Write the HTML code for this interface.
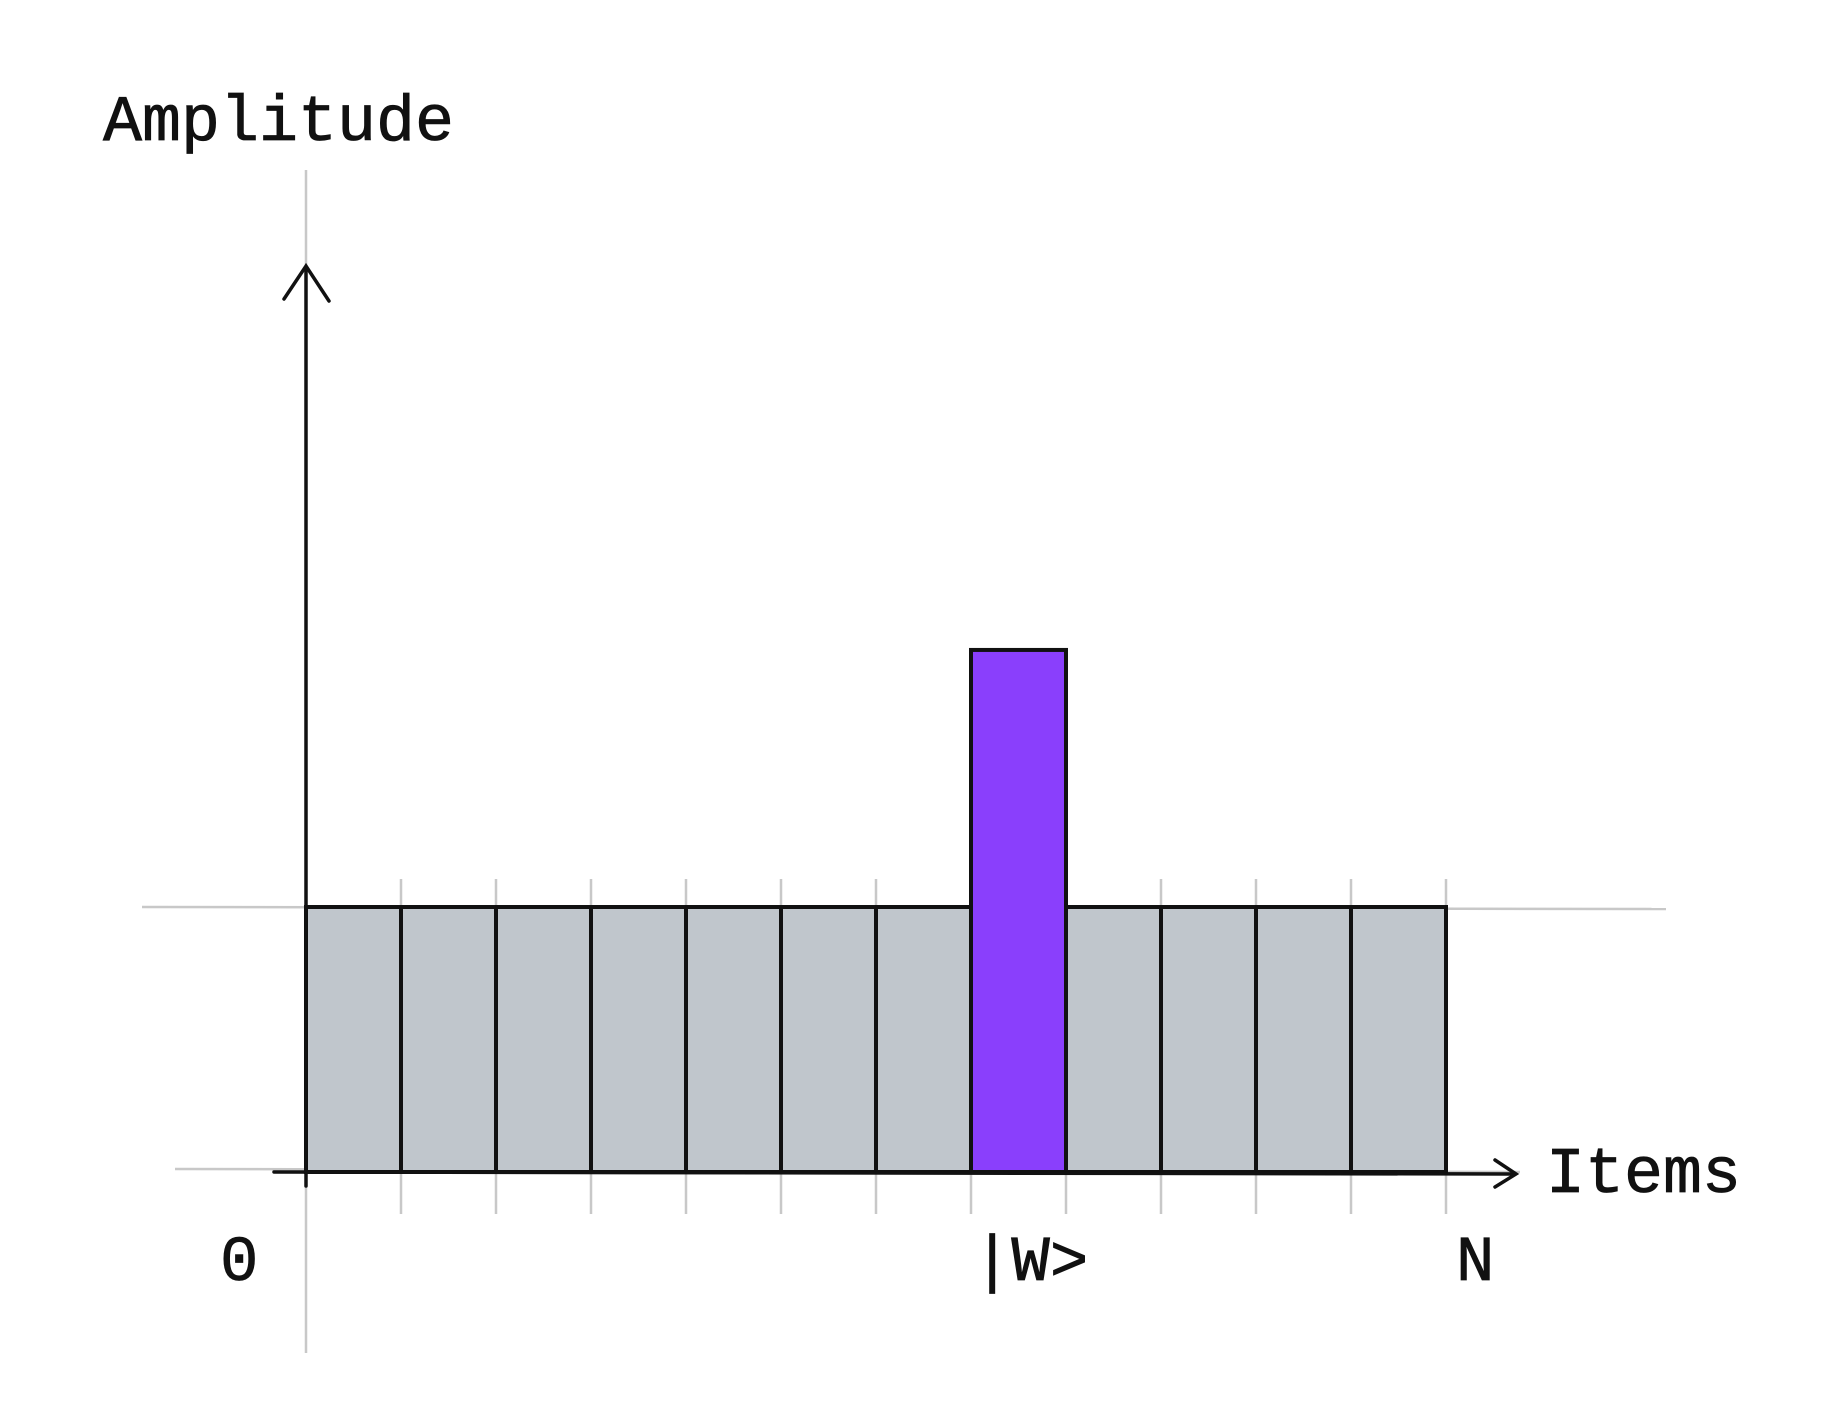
<!DOCTYPE html>
<html><head><meta charset="utf-8">
<style>
html,body{margin:0;padding:0;background:#fff;}
svg{display:block;}
text{font-family:"Liberation Mono","DejaVu Sans Mono",monospace;fill:#111;}
</style></head>
<body>
<svg id="chart" width="1829" height="1405" viewBox="0 0 1829 1405" xmlns="http://www.w3.org/2000/svg">
  <g id="guides" stroke="#c8c8c8" stroke-width="2.5" fill="none">
    <line x1="306" y1="170" x2="306" y2="1353"/>
    <line x1="142" y1="907" x2="1666" y2="909"/>
    <line x1="175" y1="1169" x2="1520" y2="1172"/>
  </g>
  <g id="bars"></g>
  <g id="axes" stroke="#111" stroke-width="3.5" fill="none" stroke-linecap="round">
    <line x1="306" y1="268" x2="306" y2="1186"/>
    <polyline points="284,299 306,266 329,301"/>
    <line x1="274" y1="1172" x2="1514" y2="1174"/>
    <polyline points="1495,1160 1516,1174 1495,1187"/>
  </g>
  <text x="103" y="140" font-size="65" stroke="#111" stroke-width="0.8">Amplitude</text>
  <text x="1546" y="1192" font-size="65" stroke="#111" stroke-width="0.8">Items</text>
  <g id="labels"></g>
</svg>
<script>
const categories = ["0","1","2","3","4","5","6","W","8","9","10","N"];
const amplitudes = [1,1,1,1,1,1,1,1.97,1,1,1,1];
const markedIndex = [7];
const tickLabels = ["0","|W>","N"];

const NS = "http://www.w3.org/2000/svg";
const x0 = 306, x1 = 1446, yBase = 1172, yUnit = 265;
const band = (x1 - x0) / categories.length;
function xScale(i){ return x0 + i * band; }
function yScale(v){ return yBase - v * yUnit; }

const barsG = document.getElementById('bars');
amplitudes.forEach((v, i) => {
  const r = document.createElementNS(NS, 'rect');
  const marked = markedIndex.includes(i);
  r.setAttribute('x', xScale(i));
  r.setAttribute('y', yScale(v));
  r.setAttribute('width', band);
  r.setAttribute('height', yBase - yScale(v));
  r.setAttribute('fill', marked ? '#8a3ffc' : '#c0c6cc');
  r.setAttribute('stroke', '#111');
  r.setAttribute('stroke-width', '4');
  
  
  barsG.appendChild(r);
});
for (let i = 1; i <= categories.length; i++) {
  const t = document.createElementNS(NS, 'line');
  t.setAttribute('x1', xScale(i)); t.setAttribute('x2', xScale(i));
  t.setAttribute('y1', yScale(1) - 28); t.setAttribute('y2', yBase + 42);
  t.setAttribute('stroke', '#c8c8c8'); t.setAttribute('stroke-width', '2.5');
  
  
  barsG.insertBefore(t, barsG.firstChild);
}

const labG = document.getElementById('labels');
const labelPos = [xScale(0) - 86, xScale(markedIndex[0]) + 2, xScale(categories.length) + 10];
tickLabels.forEach((s, k) => {
  const t = document.createElementNS(NS, 'text');
  t.setAttribute('x', labelPos[k]);
  t.setAttribute('y', 1280);
  t.setAttribute('font-size', '64');
  t.setAttribute('stroke', '#111');
  t.setAttribute('stroke-width', '0.8');
  t.textContent = s;
  
  
  labG.appendChild(t);
});
</script>
</body></html>
